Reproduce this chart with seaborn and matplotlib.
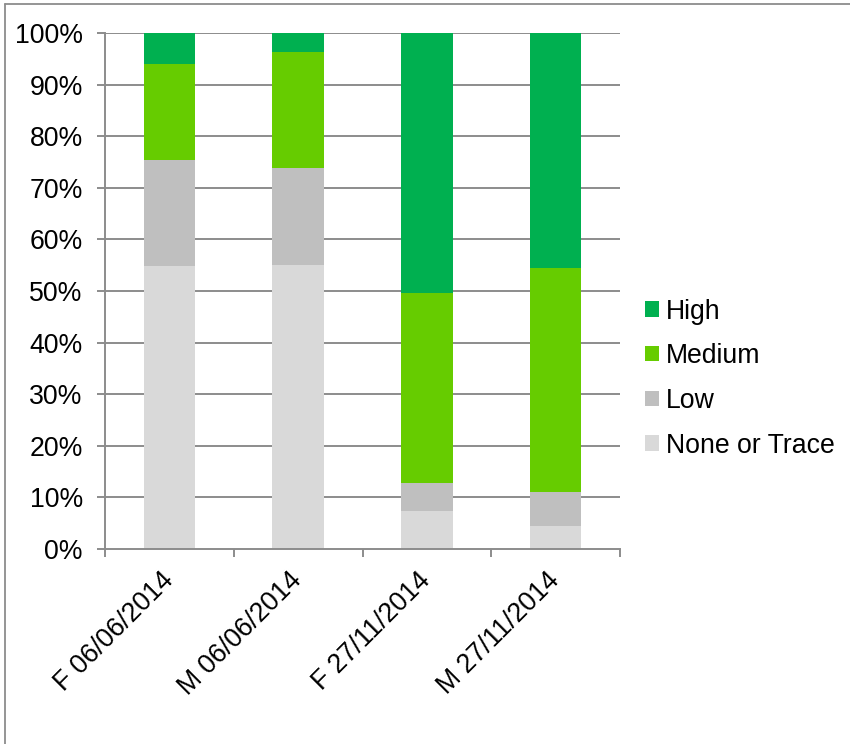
import matplotlib
matplotlib.use("Agg")
import matplotlib.pyplot as plt
from matplotlib.patches import Patch
from matplotlib.lines import Line2D
import numpy as np
import pandas as pd
import seaborn as sns

# Sample groups and the share of each level (percent)
groups = ["F 06/06/2014", "M 06/06/2014", "F 27/11/2014", "M 27/11/2014"]
none_or_trace = [54.8, 55.0, 7.4, 4.4]
low = [20.6, 18.9, 5.3, 6.7]
medium = [18.6, 22.4, 36.9, 43.4]
high = [6.0, 3.7, 50.4, 45.5]

levels = ["None or Trace", "Low", "Medium", "High"]
colors = {"None or Trace": "#D9D9D9", "Low": "#BFBFBF",
          "Medium": "#66CC00", "High": "#00B050"}

sns.set_theme(style="white")
plt.rcParams["font.family"] = ["Liberation Sans", "DejaVu Sans"]
plt.rcParams["text.color"] = "black"
plt.rcParams["xtick.labelcolor"] = "black"
plt.rcParams["ytick.labelcolor"] = "black"

FS = 19.2

df = pd.DataFrame({"group": groups, "None or Trace": none_or_trace,
                   "Low": low, "Medium": medium, "High": high})
# cumulative tops for stacking
cum = df[levels].cumsum(axis=1)

fig = plt.figure(figsize=(8.5, 7.44), dpi=100)
ax = fig.add_axes([105 / 850, 1 - 549 / 744, 515 / 850, 516 / 744])

gray = "#8C8C8C"
ax.set_axisbelow(True)
for v in range(10, 101, 10):
    ax.axhline(v, color=gray, lw=1.4, zorder=0)

# draw from the tallest stack down so lower segments sit on top
for lvl in reversed(levels):
    sns.barplot(x=df["group"], y=cum[lvl], color=colors[lvl], width=0.4,
                saturation=1, ax=ax, edgecolor="none", linewidth=0, zorder=2)

ax.set_xlim(-0.5, 3.5)
ax.set_ylim(0, 100)
ax.set_yticks(range(0, 101, 10))
ax.set_yticklabels([f"{v}%" for v in range(0, 101, 10)], fontsize=FS,
                   color="black")
ax.set_xlabel("")
ax.set_ylabel("")

ax.set_xticks(range(len(groups)))
ax.set_xticklabels(groups, rotation=45, ha="right", va="center",
                   rotation_mode="anchor", fontsize=FS, color="black")
ax.set_xticks(np.arange(-0.5, 4.0, 1.0), minor=True)
ax.tick_params(axis="x", which="major", length=0, pad=20)
ax.tick_params(axis="x", which="minor", length=6, width=1.4, color=gray,
               direction="out", bottom=True)
ax.tick_params(axis="y", length=6, width=1.4, color=gray, direction="out",
               left=True, pad=10)

for side in ["top", "right"]:
    ax.spines[side].set_visible(False)
for side in ["left", "bottom"]:
    ax.spines[side].set_color(gray)
    ax.spines[side].set_linewidth(1.4)

handles = [Patch(facecolor=colors[l], edgecolor="none") for l in reversed(levels)]
fig.legend(handles, list(reversed(levels)), loc="center left",
           bbox_to_anchor=(645 / 850, 1 - 378.5 / 744), frameon=False,
           fontsize=FS, handlelength=0.52, handleheight=0.52,
           handletextpad=0.25, labelspacing=0.7, borderpad=0, borderaxespad=0,
           labelcolor="black")

# outer chart border
fig.add_artist(Line2D([5 / 850, 5 / 850], [0, 1 - 4 / 744], color=gray, lw=1.3))
fig.add_artist(Line2D([5 / 850, 1], [1 - 4 / 744, 1 - 4 / 744], color=gray, lw=1.3))

fig.savefig("out.png", dpi=100, facecolor="white")
